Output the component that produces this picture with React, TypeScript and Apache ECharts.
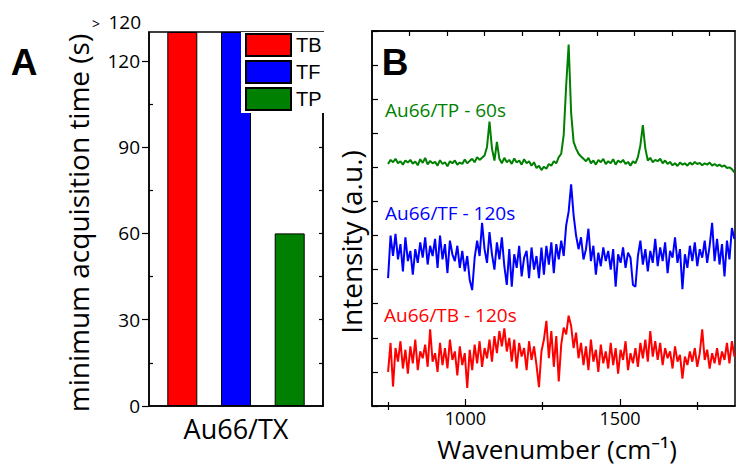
import React, { useEffect, useRef } from 'react';
import * as echarts from 'echarts';

// ---------- Panel A data ----------
const BAR_CATEGORIES = ['Au66/TX'];
const BAR_SERIES_NAMES = ['TB', 'TF', 'TP'];
const BAR_VALUES = [130, 130, 60];
const BAR_COLORS = ['#ff0000', '#0000ff', '#008000'];
const BAR_Y_MAJOR = [0, 30, 60, 90, 120];
const BAR_Y_MINOR = [15, 45, 75, 105];
const BAR_Y_RIGHT = [15, 30, 45, 60, 75, 90, 105, 120];

// ---------- Panel B data ----------
const WN_START = 750;
const WN_STEP = 8;
const SPEC_NAMES = ['Au66/TB - 120s', 'Au66/TF - 120s', 'Au66/TP - 60s'];
const SPEC_COLORS = ['#ff0000', '#0000ff', '#008000'];

const TP = [
  7.10, 7.22, 7.15, 7.25, 7.12, 7.18, 7.08, 7.20, 7.14, 7.22,
  7.11, 7.17, 7.06, 7.24, 7.13, 7.28, 7.09, 7.19, 7.12, 7.16,
  7.05, 7.21, 7.10, 7.15, 7.03, 7.18, 7.12, 7.20, 7.08, 7.14,
  7.10, 7.23, 7.12, 7.19, 7.25, 7.15, 7.30, 7.22, 7.28, 7.35,
  7.60, 8.34, 7.55, 7.20, 7.75, 7.25, 7.12, 7.28, 7.15, 7.22,
  7.10, 7.26, 7.14, 7.20, 7.08, 7.24, 7.12, 7.18, 7.05, 7.15,
  6.98, 7.05, 6.92, 7.02, 6.96, 7.10, 7.05, 7.18, 7.12, 7.30,
  7.40, 7.95, 9.40, 10.60, 8.60, 7.75, 7.55, 7.40, 7.32, 7.25,
  7.18, 7.28, 7.12, 7.20, 7.08, 7.22, 7.15, 7.25, 7.10, 7.18,
  7.12, 7.24, 7.08, 7.20, 7.14, 7.22, 7.10, 7.16, 7.05, 7.18,
  7.12, 7.30, 7.65, 8.24, 7.55, 7.20, 7.28, 7.15, 7.22, 7.18,
  7.25, 7.12, 7.20, 7.10, 7.16, 7.06, 7.12, 7.04, 7.14, 7.08,
  7.12, 7.05, 7.14, 7.08, 7.16, 7.10, 7.13, 7.06, 7.12, 7.08,
  7.14, 7.05, 7.10, 7.04, 7.08, 7.02, 7.06, 6.98, 7.00, 6.95, 6.85,
];

const TF = [
  3.75, 5.00, 4.40, 5.05, 4.30, 4.75, 3.95, 4.95, 4.25, 4.55,
  3.85, 4.60, 4.20, 4.80, 4.35, 4.95, 4.15, 4.70, 4.40, 4.90,
  4.05, 5.00, 4.30, 4.75, 3.90, 4.85, 4.45, 4.25, 4.70, 4.05,
  4.55, 3.95, 4.40, 3.70, 3.40, 4.35, 4.85, 4.40, 5.37, 4.60,
  4.20, 5.10, 4.45, 4.00, 4.80, 4.30, 4.95, 4.10, 3.55, 4.60,
  3.50, 4.45, 4.05, 4.70, 3.80, 4.35, 4.55, 3.75, 4.65, 4.00,
  4.40, 3.75, 4.65, 3.85, 4.70, 4.15, 4.80, 3.90, 4.75, 4.30,
  4.85, 4.40, 5.30, 5.70, 6.50, 5.60, 5.00, 4.60, 4.95, 4.30,
  4.60, 5.20, 4.25, 4.70, 3.85, 4.50, 4.10, 4.65, 4.25, 4.55,
  4.00, 4.60, 3.50, 4.45, 4.20, 4.65, 4.05, 4.50, 4.35, 3.55,
  3.50, 4.40, 4.85, 4.15, 4.60, 3.95, 4.55, 4.20, 4.90, 4.10,
  4.65, 4.25, 4.80, 3.90, 4.55, 4.35, 4.95, 4.20, 4.60, 3.43,
  4.45, 4.05, 4.70, 4.25, 4.80, 4.10, 4.60, 4.35, 4.85, 4.20,
  4.70, 5.37, 4.25, 4.90, 4.15, 4.75, 3.80, 4.85, 4.30, 5.22, 4.90,
];

const TB = [
  1.00, 1.85, 0.57, 1.70, 1.30, 1.90, 1.10, 1.65, 0.95, 1.75,
  1.25, 1.95, 1.05, 1.60, 1.40, 1.80, 1.15, 2.25, 1.30, 1.55,
  1.00, 1.85, 1.20, 1.70, 1.10, 1.95, 1.35, 1.60, 0.90, 1.75,
  1.20, 1.55, 0.53, 1.65, 1.05, 1.80, 1.25, 1.90, 1.15, 1.70,
  1.40, 1.95, 1.30, 2.05, 1.55, 2.20, 1.75, 2.28, 1.60, 2.00,
  1.30, 1.95, 1.10, 1.85, 1.45, 1.70, 1.05, 1.90, 1.35, 1.75,
  1.20, 0.55, 1.60, 1.95, 2.50, 1.40, 2.20, 1.15, 2.05, 0.72,
  1.80, 2.30, 2.10, 2.65, 2.35, 1.70, 2.15, 1.40, 1.85, 1.20,
  1.75, 1.05, 1.95, 1.30, 1.65, 1.00, 1.80, 1.25, 1.60, 1.10,
  1.85, 1.20, 1.70, 0.95, 1.65, 1.35, 1.90, 1.05, 1.55, 1.25,
  1.70, 1.15, 1.85, 1.40, 1.95, 1.30, 2.20, 1.45, 1.90, 1.35,
  1.85, 1.20, 1.70, 1.40, 1.60, 1.10, 1.75, 1.30, 1.50, 0.80,
  1.45, 1.20, 1.60, 1.30, 1.70, 1.15, 1.55, 2.25, 1.35, 1.65,
  1.10, 1.55, 1.25, 1.70, 1.20, 1.60, 1.35, 1.85, 1.25, 1.90, 1.45,
];

const SPEC_X_LABELS = [1000, 1500];
const SPEC_X_MINOR = [750, 1250, 1750];
const SPEC_TOP_TICKS = [37.5, 75, 112.5, 150, 187.5, 225, 262.5, 300, 337.5];

const FONT = '"Open Sans", "Noto Sans", sans-serif';
const BOLD_FONT = '"Liberation Sans", Arial, sans-serif';

function toPairs(values: number[]) {
  return values.map((v, i) => [WN_START + i * WN_STEP, v]);
}

function txt(x: number, y: number, text: string, font: string, fill: string, align: string, rotation = 0) {
  return {
    type: 'text', x, y, rotation, z: 10,
    style: { text, font, fill, align, verticalAlign: 'middle', textAlign: align, textVerticalAlign: 'middle' },
  };
}

export default function App() {
  const ref = useRef<HTMLDivElement>(null);

  useEffect(() => {
    if (!ref.current) return;
    const chart = echarts.init(ref.current, undefined, { renderer: 'svg' });

    const blackLine = { show: true, onZero: false, lineStyle: { color: '#000', width: 1.5 } };
    const tickStyle = { color: '#000', width: 1.2 };

    const option: any = {
      animation: false,
      backgroundColor: '#fff',
      textStyle: { fontFamily: FONT, color: '#000' },
      grid: [
        { left: 149, top: 32, width: 174, height: 374, show: true, borderColor: '#000', borderWidth: 1.5, backgroundColor: 'transparent' },
        { left: 372, top: 31, width: 363, height: 375, show: true, borderColor: '#000', borderWidth: 1.5, backgroundColor: 'transparent' },
      ],
      legend: {
        data: BAR_SERIES_NAMES,
        orient: 'vertical',
        left: 241,
        top: 32,
        padding: [1, 4, 2, 4],
        itemWidth: 45,
        itemHeight: 22,
        itemGap: 3,
        icon: 'rect',
        backgroundColor: '#fff',
        textStyle: { fontFamily: BOLD_FONT, fontSize: 20, color: '#000' },
        selectedMode: false,
      },
      xAxis: [
        {
          gridIndex: 0, type: 'category', data: BAR_CATEGORIES, position: 'bottom',
          axisLine: blackLine, axisTick: { show: false },
          axisLabel: { fontSize: 27, color: '#000', margin: 9, fontFamily: FONT },
          splitLine: { show: false },
        },
        {
          gridIndex: 1, type: 'value', min: 698, max: 1872, position: 'bottom',
          axisLine: blackLine,
          axisTick: { show: true, inside: true, length: 7, customValues: SPEC_X_LABELS, lineStyle: tickStyle },
          axisLabel: { show: true, customValues: SPEC_X_LABELS, formatter: (v: number) => String(v), fontSize: 18, color: '#000', margin: 3, fontFamily: FONT },
          splitLine: { show: false },
        },
        {
          gridIndex: 1, type: 'value', min: 698, max: 1872, position: 'bottom',
          axisLine: { show: false, onZero: false },
          axisTick: { show: true, inside: true, length: 4, customValues: SPEC_X_MINOR, lineStyle: tickStyle },
          axisLabel: { show: false }, splitLine: { show: false },
        },
        {
          gridIndex: 1, type: 'value', min: 698, max: 1872, position: 'bottom',
          axisLine: { show: false, onZero: false },
          axisTick: { show: true, inside: false, length: 4, customValues: SPEC_X_MINOR, lineStyle: tickStyle },
          axisLabel: { show: false }, splitLine: { show: false },
        },
        {
          gridIndex: 1, type: 'value', min: 0, max: 363, position: 'top',
          axisLine: blackLine,
          axisTick: { show: true, inside: true, length: 5, customValues: SPEC_TOP_TICKS, lineStyle: tickStyle },
          axisLabel: { show: false }, splitLine: { show: false },
        },
      ],
      yAxis: [
        {
          gridIndex: 0, type: 'value', min: 0, max: 130, position: 'left',
          axisLine: blackLine,
          axisTick: { show: true, inside: false, length: 7, customValues: BAR_Y_MAJOR, lineStyle: tickStyle },
          axisLabel: { show: true, customValues: BAR_Y_MAJOR, fontSize: 19, color: '#000', margin: 9, fontFamily: FONT },
          splitLine: { show: false },
        },
        {
          gridIndex: 0, type: 'value', min: 0, max: 130, position: 'left',
          axisLine: { show: false, onZero: false },
          axisTick: { show: true, inside: true, length: 4, customValues: BAR_Y_MINOR, lineStyle: tickStyle },
          axisLabel: { show: false }, splitLine: { show: false },
        },
        {
          gridIndex: 0, type: 'value', min: 0, max: 130, position: 'right',
          axisLine: blackLine,
          axisTick: { show: true, inside: true, length: 4, customValues: BAR_Y_RIGHT, lineStyle: tickStyle },
          axisLabel: { show: false }, splitLine: { show: false },
        },
        {
          gridIndex: 1, type: 'value', min: 0, max: 11, interval: 1, position: 'left',
          axisLine: blackLine,
          axisTick: { show: true, inside: true, length: 6, lineStyle: tickStyle },
          axisLabel: { show: false }, splitLine: { show: false },
        },
      ],
      series: [
        ...BAR_SERIES_NAMES.map((name, i) => ({
          name,
          type: 'bar',
          xAxisIndex: 0,
          yAxisIndex: 0,
          barWidth: 30,
          barGap: '79%',
          data: [BAR_VALUES[i]],
          itemStyle: { color: BAR_COLORS[i], borderColor: '#000', borderWidth: 1 },
          z: 2,
        })),
        ...[TB, TF, TP].map((vals, i) => ({
          name: SPEC_NAMES[i],
          type: 'line',
          xAxisIndex: 1,
          yAxisIndex: 3,
          showSymbol: false,
          symbol: 'none',
          data: toPairs(vals),
          lineStyle: { color: SPEC_COLORS[i], width: 2 },
          itemStyle: { color: SPEC_COLORS[i] },
          z: 3,
        })),
      ],
      graphic: [
        txt(24, 62, 'A', `bold 37px ${BOLD_FONT}`, '#000', 'center'),
        txt(395, 62, 'B', `bold 37px ${BOLD_FONT}`, '#000', 'center'),
        txt(92, 23, '>', `14px ${FONT}`, '#000', 'left'),
        txt(141, 22, '120', `19px ${FONT}`, '#000', 'right'),
        txt(78, 223, 'minimum acquisition time (s)', `28px ${FONT}`, '#000', 'center', Math.PI / 2),
        txt(351, 242, 'Intensity (a.u.)', `28px ${FONT}`, '#000', 'center', Math.PI / 2),
        txt(557, 449, 'Wavenumber (cm\u207B\u00B9)', `26px ${FONT}`, '#000', 'center'),
        txt(385, 110, SPEC_NAMES[2], `19px ${FONT}`, SPEC_COLORS[2], 'left'),
        txt(385, 213, SPEC_NAMES[1], `19px ${FONT}`, SPEC_COLORS[1], 'left'),
        txt(384, 315, SPEC_NAMES[0], `19px ${FONT}`, SPEC_COLORS[0], 'left'),
      ],
    };

    chart.setOption(option);
    return () => chart.dispose();
  }, []);

  return <div ref={ref} style={{ position: 'fixed', left: 0, top: 0, width: 736, height: 467 }} />;
}
